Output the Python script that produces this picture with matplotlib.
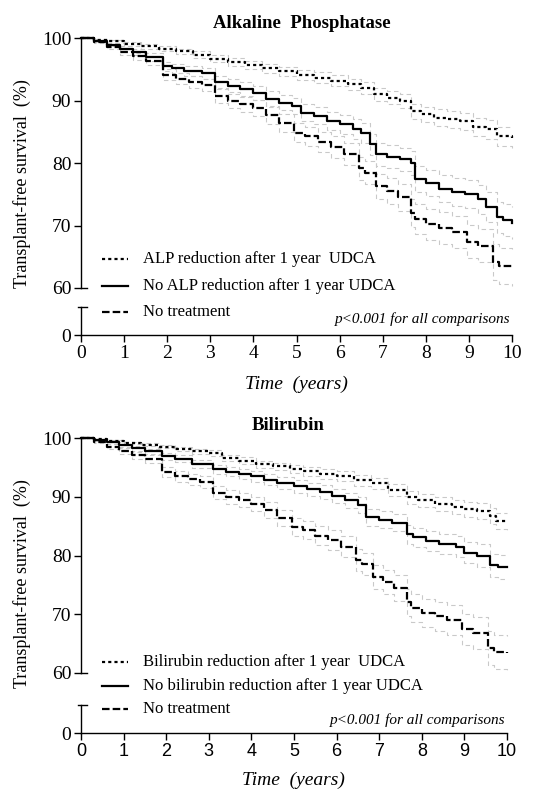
import numpy as np
import matplotlib
matplotlib.use('Agg')
import matplotlib.pyplot as plt
from matplotlib.lines import Line2D

plt.rcParams['font.family'] = 'Liberation Serif'

# ---- Kaplan-Meier step data (time in years, transplant-free survival in %) ----
# Alkaline phosphatase panel
alp_red_t = [0, 0.3, 0.6, 1.0, 1.4, 1.8, 2.2, 2.6, 3.0, 3.4, 3.8, 4.2, 4.6, 5.0, 5.4,
             5.8, 6.2, 6.5, 6.8, 7.1, 7.4, 7.65, 7.9, 8.2, 8.5, 8.8, 9.1, 9.4, 9.65, 10]
alp_red_s = [100, 99.8, 99.5, 99.1, 98.7, 98.3, 97.9, 97.4, 96.7, 96.2, 95.7, 95.2, 94.7, 94.2, 93.7,
             93.2, 92.6, 92.0, 91.0, 90.5, 90.0, 88.3, 87.8, 87.3, 87.0, 86.7, 85.8, 85.4, 84.3, 84.1]
alp_red_ci = [0, 0.1, 0.2, 0.3, 0.35, 0.4, 0.45, 0.5, 0.55, 0.6, 0.65, 0.7, 0.75, 0.8, 0.85,
              0.9, 0.95, 1.0, 1.05, 1.1, 1.15, 1.2, 1.25, 1.3, 1.35, 1.4, 1.45, 1.5, 1.55, 1.6]

alp_nored_t = [0, 0.3, 0.6, 0.9, 1.2, 1.5, 1.9, 2.1, 2.4, 2.8, 3.1, 3.4, 3.7, 4.0, 4.3, 4.6, 4.9,
               5.1, 5.4, 5.7, 6.0, 6.3, 6.5, 6.7, 6.85, 7.1, 7.4, 7.65, 7.75, 8.0, 8.3, 8.6, 8.9,
               9.2, 9.4, 9.65, 9.8, 10]
alp_nored_s = [100, 99.6, 99.0, 98.3, 97.8, 97.0, 95.5, 95.2, 94.8, 94.4, 93.0, 92.4, 91.9, 91.2, 90.3,
               89.7, 89.1, 88.1, 87.6, 86.8, 86.2, 85.4, 84.8, 83.0, 81.4, 81.0, 80.6, 80.0, 77.5,
               76.8, 75.9, 75.4, 75.0, 74.2, 73.0, 71.3, 70.9, 70.4]
alp_nored_ci = [0, 0.15, 0.3, 0.4, 0.5, 0.6, 0.7, 0.75, 0.8, 0.9, 1.0, 1.05, 1.1, 1.15, 1.2,
                1.25, 1.3, 1.35, 1.4, 1.45, 1.5, 1.6, 1.65, 1.7, 1.8, 1.85, 1.9, 1.95, 2.05,
                2.1, 2.15, 2.2, 2.25, 2.3, 2.35, 2.45, 2.5, 2.5]

# No treatment group (same patients in both panels)
notreat_t = [0, 0.3, 0.6, 0.9, 1.2, 1.5, 1.9, 2.2, 2.5, 2.8, 3.1, 3.4, 3.7, 4.0, 4.3, 4.6, 4.95,
             5.2, 5.5, 5.8, 6.1, 6.45, 6.6, 6.85, 7.1, 7.35, 7.65, 7.75, 8.0, 8.3, 8.6, 8.95,
             9.2, 9.55, 9.7, 10]
notreat_s = [100, 99.4, 98.6, 97.8, 97.1, 96.4, 94.2, 93.5, 93.0, 92.5, 90.7, 90.0, 89.4, 88.8, 87.7,
             86.4, 84.9, 84.3, 83.4, 82.6, 81.5, 79.2, 78.5, 76.3, 75.5, 74.5, 72.0, 71.0, 70.2,
             69.6, 69.0, 67.4, 66.8, 64.2, 63.5, 63.3]
notreat_ci = [0, 0.2, 0.35, 0.5, 0.6, 0.7, 0.85, 0.9, 0.95, 1.0, 1.1, 1.15, 1.2, 1.25, 1.35,
              1.4, 1.5, 1.55, 1.6, 1.7, 1.75, 1.85, 1.9, 2.0, 2.1, 2.2, 2.3, 2.4, 2.45,
              2.5, 2.55, 2.65, 2.7, 2.85, 2.9, 3.0]

# Bilirubin panel
bil_red_t = [0, 0.3, 0.6, 1.0, 1.4, 1.8, 2.2, 2.6, 3.0, 3.3, 3.7, 4.1, 4.5, 4.9, 5.2, 5.6,
             6.0, 6.4, 6.8, 7.2, 7.65, 7.9, 8.3, 8.7, 9.0, 9.3, 9.6, 9.75, 10]
bil_red_s = [100, 99.8, 99.5, 99.2, 98.9, 98.6, 98.2, 97.8, 97.5, 96.7, 96.2, 95.6, 95.2, 94.7, 94.4,
             93.9, 93.5, 92.8, 92.3, 91.2, 89.9, 89.4, 88.8, 88.3, 87.9, 87.6, 86.8, 85.9, 85.8]
bil_red_ci = [0, 0.1, 0.15, 0.2, 0.25, 0.3, 0.35, 0.4, 0.45, 0.5, 0.55, 0.6, 0.65, 0.7, 0.75,
              0.8, 0.85, 0.9, 0.95, 1.0, 1.05, 1.1, 1.15, 1.2, 1.25, 1.3, 1.35, 1.4, 1.4]

bil_nored_t = [0, 0.3, 0.6, 0.9, 1.2, 1.5, 1.9, 2.2, 2.6, 3.1, 3.4, 3.7, 4.0, 4.3, 4.6, 5.0, 5.3,
               5.6, 5.9, 6.2, 6.5, 6.7, 7.0, 7.3, 7.65, 7.8, 8.1, 8.4, 8.8, 9.0, 9.3, 9.6, 9.8, 10]
bil_nored_s = [100, 99.7, 99.3, 98.8, 98.3, 97.8, 96.9, 96.5, 95.6, 94.7, 94.3, 93.9, 93.5, 92.9, 92.4,
               91.8, 91.3, 90.8, 90.1, 89.4, 88.6, 86.5, 86.1, 85.6, 83.6, 83.1, 82.5, 82.0, 81.5,
               80.5, 80.0, 78.3, 78.0, 78.0]
bil_nored_ci = [0, 0.1, 0.2, 0.3, 0.4, 0.45, 0.55, 0.6, 0.65, 0.75, 0.8, 0.85, 0.9, 0.95, 1.0,
                1.05, 1.1, 1.15, 1.2, 1.25, 1.3, 1.4, 1.45, 1.5, 1.6, 1.65, 1.7, 1.75, 1.8,
                1.85, 1.9, 2.0, 2.05, 2.05]

alp_labels = ['ALP reduction after 1 year  UDCA',
              'No ALP reduction after 1 year UDCA',
              'No treatment']
bil_labels = ['Bilirubin reduction after 1 year  UDCA',
              'No bilirubin reduction after 1 year UDCA',
              'No treatment']

x_ticks = list(range(0, 11))
y_ticks = [60, 70, 80, 90, 100]
p_text = 'p<0.001 for all comparisons'

W, H = 539, 790
DOT = (1.4, 1.4)
DASH = (3.4, 1.4)
CI_COLOR = '#c9c9c9'


def fx(px):
    return px / W


def fy(py):
    return 1 - py / H


def draw_panel(fig, left, right, y100, y60, ylow_top, y0, series, labels, title,
               title_xy, legend_y, p_xy, ylab_y, xlab_xy, xtick_family):
    w = fx(right - left)
    ax = fig.add_axes([fx(left), fy(y60), w, (y60 - y100) / H])
    axl = fig.add_axes([fx(left), fy(y0), w, (y0 - ylow_top) / H])

    styles = [dict(dashes=DOT), dict(), dict(dashes=DASH)]
    for (t, s, ci), st in zip(series, styles):
        t = np.array(t)
        s = np.array(s)
        ci = np.array(ci)
        for band in (s + ci, s - ci):
            ax.plot(t, band, drawstyle='steps-post', color=CI_COLOR, lw=0.8,
                    dashes=(4, 3), clip_on=False, zorder=2)
    for (t, s, ci), st in zip(series, styles):
        ax.plot(t, s, drawstyle='steps-post', color='black', lw=1.6,
                clip_on=False, zorder=3, **st)

    ax.set_xlim(0, 10)
    ax.set_ylim(60, 100)
    ax.set_yticks(y_ticks)
    ax.set_xticks([])
    for sp in ('top', 'right', 'bottom'):
        ax.spines[sp].set_visible(False)
    ax.spines['left'].set_linewidth(1.0)
    ax.tick_params(axis='y', direction='out', length=5, width=1.0, labelsize=14, pad=2)
    # break caps
    ax.plot([0, 0.014], [0, 0], transform=ax.transAxes, color='black', lw=1.0, clip_on=False)

    axl.set_xlim(0, 10)
    axl.set_ylim(0, 1)
    axl.set_yticks([0])
    axl.set_xticks(x_ticks)
    for sp in ('top', 'right'):
        axl.spines[sp].set_visible(False)
    axl.spines['left'].set_linewidth(1.0)
    axl.spines['bottom'].set_linewidth(1.0)
    axl.tick_params(axis='both', direction='out', length=5, width=1.0, labelsize=14, pad=2)
    axl.plot([-0.008, 0.014], [1, 1], transform=axl.transAxes, color='black', lw=1.0, clip_on=False)
    for lab in axl.get_xticklabels():
        lab.set_family(xtick_family)
        lab.set_fontsize(14 if xtick_family != 'Liberation Sans' else 13)

    fig.text(fx(title_xy[0]), fy(title_xy[1]), title, ha='center', va='center',
             fontsize=13.5, fontweight='bold')
    fig.text(fx(22), fy(ylab_y), 'Transplant-free survival  (%)', rotation=90,
             ha='center', va='center', fontsize=13)
    fig.text(fx(xlab_xy[0]), fy(xlab_xy[1]), 'Time  (years)', ha='center', va='center',
             fontsize=14, style='italic')
    fig.text(fx(p_xy[0]), fy(p_xy[1]), p_text, ha='right', va='center',
             fontsize=11, style='italic')

    for yy, lab, st in zip(legend_y, labels, styles):
        fig.add_artist(Line2D([fx(102), fx(128)], [fy(yy), fy(yy)], color='black', lw=1.6, **st))
        fig.text(fx(143), fy(yy), lab, ha='left', va='center', fontsize=12)
    return ax, axl


fig = plt.figure(figsize=(W / 100, H / 100), dpi=100)

draw_panel(fig, 81, 512, 38.3, 288, 307, 335,
           [(alp_red_t, alp_red_s, alp_red_ci),
            (alp_nored_t, alp_nored_s, alp_nored_ci),
            (notreat_t, notreat_s, notreat_ci)],
           alp_labels, 'Alkaline  Phosphatase', (302, 23), [259, 286, 312],
           (510, 319), 184, (296, 384), 'Liberation Serif')

draw_panel(fig, 81, 507, 438.3, 672.7, 705, 733,
           [(bil_red_t, bil_red_s, bil_red_ci),
            (bil_nored_t, bil_nored_s, bil_nored_ci),
            (notreat_t, notreat_s, notreat_ci)],
           bil_labels, 'Bilirubin', (288, 426), [662, 686, 709],
           (505, 720), 584, (293, 780), 'Liberation Sans')

fig.savefig('out.png', dpi=100)
